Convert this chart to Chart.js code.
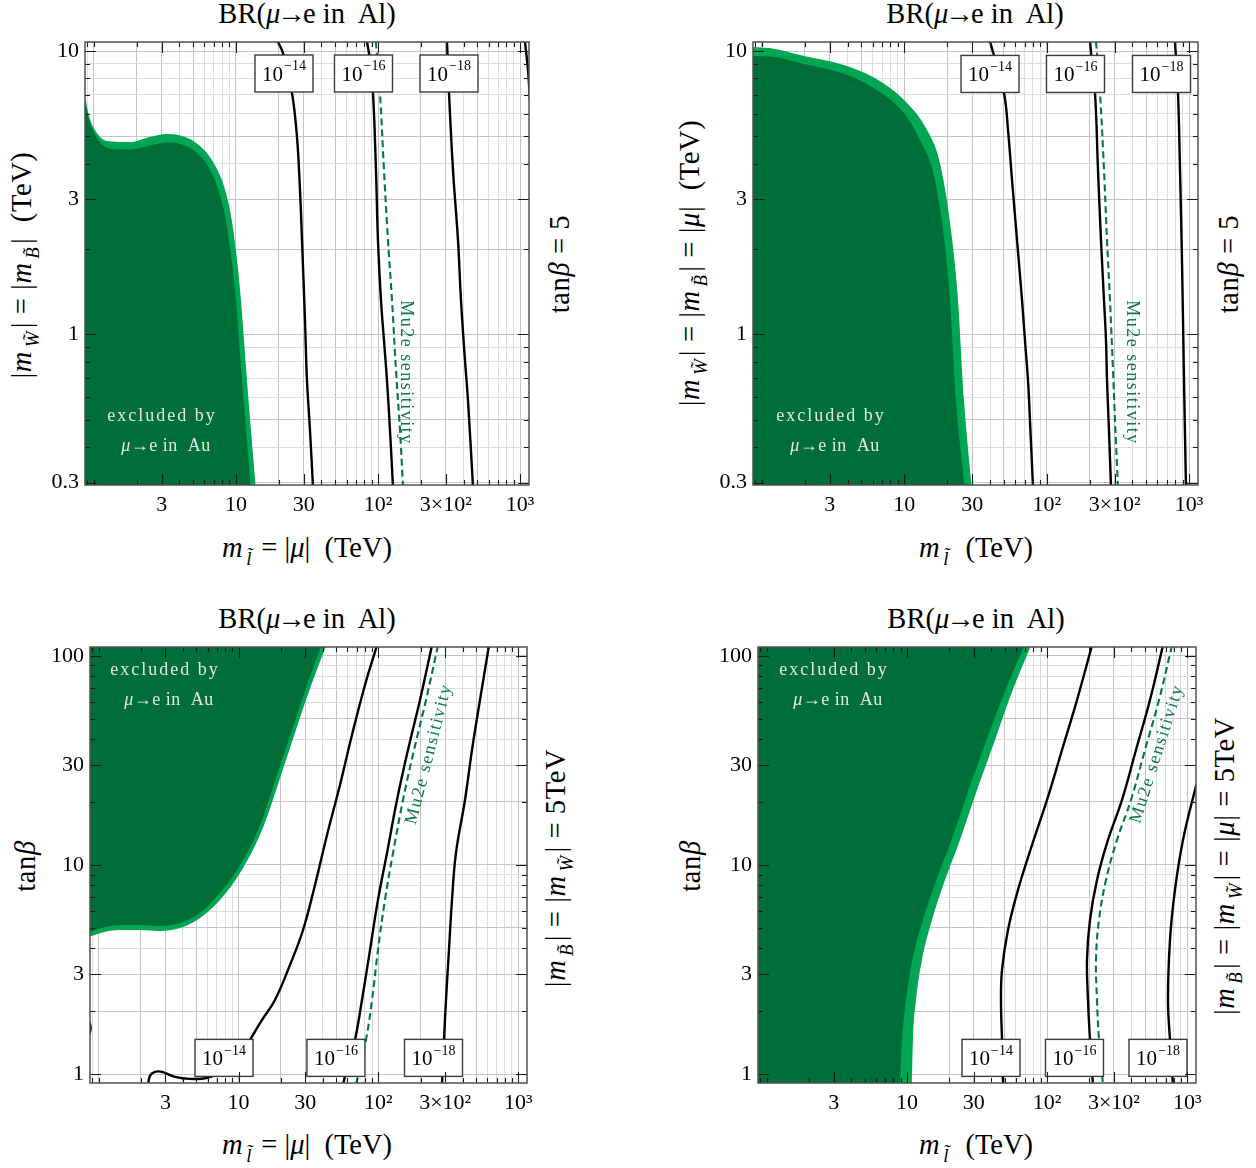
<!DOCTYPE html>
<html><head><meta charset="utf-8">
<script src="https://cdn.jsdelivr.net/npm/chart.js@4.4.1/dist/chart.umd.min.js"></script>
<style>
html,body{margin:0;padding:0;background:#fff;}
body{width:1256px;height:1168px;position:relative;overflow:hidden;font-family:"Liberation Serif","Times New Roman",serif;color:#000;}
canvas{position:absolute;}
.lab{position:absolute;white-space:nowrap;font-size:28.5px;line-height:1;transform:translate(-50%,-50%);}
.rot{transform:translate(-50%,-50%) rotate(-90deg);letter-spacing:0.6px;}
.lab sub{font-size:66%;vertical-align:-0.4em;line-height:0;margin:0 0.14em 0 0.2em;}
.ar{margin:0 -0.1em;}
</style></head><body>
<div class="lab" style="left:307px;top:14px">BR(<i>μ</i><span class="ar">→</span>e in&nbsp; Al)</div>
<div class="lab" style="left:975px;top:14px">BR(<i>μ</i><span class="ar">→</span>e in&nbsp; Al)</div>
<div class="lab" style="left:307px;top:619px">BR(<i>μ</i><span class="ar">→</span>e in&nbsp; Al)</div>
<div class="lab" style="left:976px;top:619px">BR(<i>μ</i><span class="ar">→</span>e in&nbsp; Al)</div>

<div class="lab" style="left:307px;top:548px"><i>m</i><sub><i>l&#771;</i></sub> = |<i>μ</i>|&nbsp; (TeV)</div>
<div class="lab" style="left:976px;top:548px"><i>m</i><sub><i>l&#771;</i></sub>&nbsp; (TeV)</div>
<div class="lab" style="left:307px;top:1145px"><i>m</i><sub><i>l&#771;</i></sub> = |<i>μ</i>|&nbsp; (TeV)</div>
<div class="lab" style="left:976px;top:1145px"><i>m</i><sub><i>l&#771;</i></sub>&nbsp; (TeV)</div>

<div class="lab rot" style="left:22px;top:265px">|<i>m</i><sub><i>W&#771;</i></sub>| = |<i>m</i><sub><i>B&#771;</i></sub>|&nbsp; (TeV)</div>
<div class="lab rot" style="left:690px;top:263px">|<i>m</i><sub><i>W&#771;</i></sub>| = |<i>m</i><sub><i>B&#771;</i></sub>| = |<i>μ</i>|&nbsp; (TeV)</div>
<div class="lab rot" style="left:26px;top:866px">tan<i>β</i></div>
<div class="lab rot" style="left:691px;top:866px">tan<i>β</i></div>

<div class="lab rot" style="left:560px;top:264px">tan<i>β</i> = 5</div>
<div class="lab rot" style="left:1229px;top:264px">tan<i>β</i> = 5</div>
<div class="lab rot" style="left:556px;top:868px">|<i>m</i><sub><i>B&#771;</i></sub>| = |<i>m</i><sub><i>W&#771;</i></sub>| = 5TeV</div>
<div class="lab rot" style="left:1225px;top:866px">|<i>m</i><sub><i>B&#771;</i></sub>| = |<i>m</i><sub><i>W&#771;</i></sub>| = |<i>μ</i>| = 5TeV</div>

<script>
// ---------------- tick labels ----------------
const xMajorVals = [3, 10, 30, 100, 300, 1000];
const xMajorText = ['3', '10', '30', '10²', '3×10²', '10³'];
const yTopMajorVals = [0.3, 1, 3, 10];
const yTopMajorText = ['0.3', '1', '3', '10'];
const yBotMajorVals = [1, 3, 10, 30, 100];
const yBotMajorText = ['1', '3', '10', '30', '100'];

// ---------------- panel 1 (tanβ = 5) ----------------
const p1ExclOuter = [[0.85,7.46],[0.909,6.09],[1.018,5.26],[1.237,4.81],[1.796,4.77],[2.483,4.97],[3.27,5.09],[4.38,4.97],[5.58,4.62],[6.78,4.12],[7.97,3.50],[9.08,2.74],[10.0,1.98],[10.85,1.32],[11.39,0.953],[11.96,0.688],[12.76,0.458],[13.84,0.28]];
const p1ExclInner = [[0.85,7.0],[0.924,5.71],[1.052,4.93],[1.299,4.52],[1.796,4.49],[2.483,4.64],[3.27,4.75],[4.38,4.64],[5.40,4.34],[6.36,3.92],[7.36,3.34],[8.37,2.63],[9.23,1.90],[10.0,1.32],[11.03,0.688],[12.76,0.28]];
const p1C14 = [[19.7,10.8],[21.43,9.84],[24.80,7.11],[26.89,4.97],[28.23,3.23],[29.16,2.15],[30.61,1.121],[31.62,0.688],[33.2,0.458],[34.85,0.29]];
const p1C16 = [[83.5,10.8],[87.8,9.30],[92.2,7.11],[96.7,3.80],[99.9,2.15],[104.9,1.32],[110.1,0.953],[115.6,0.688],[121.4,0.458],[127.4,0.29]];
const p1Mu2e = [[96.5,10.8],[103.2,7.11],[110.1,3.80],[117.5,2.15],[125.4,1.32],[133.8,0.746],[142.8,0.458],[149.9,0.29]];
const p1C18 = [[305.8,10.8],[315.9,7.11],[337.0,3.80],[365.4,2.15],[383.6,1.32],[409.3,0.81],[429.7,0.585],[466.0,0.29]];
const p1C20 = [[1082,10.8],[1136,8.57],[1174,6.71]];

// ---------------- panel 2 (tanβ = 5, |μ| = gaugino) ----------------
const p2ExclOuter = [[0.85,10.33],[1.236,10.17],[1.852,9.68],[4.157,8.78],[7.09,7.71],[10.45,6.55],[14.43,5.26],[17.81,4.02],[21.28,2.33],[23.84,1.32],[26.26,0.585],[29.88,0.28]];
const p2ExclInner = [[0.85,9.61],[1.236,9.53],[1.852,9.07],[4.157,8.17],[6.75,7.17],[9.79,6.09],[12.89,4.85],[15.9,3.74],[18.7,2.33],[20.94,1.32],[23.07,0.585],[26.69,0.28]];
const p2C14 = [[40.0,10.8],[50.1,7.11],[53.5,5.26],[57.1,3.50],[61.9,2.15],[67.1,1.32],[70.4,0.953],[73.9,0.688],[76.3,0.497],[80.1,0.29]];
const p2C16 = [[201.4,10.8],[218.4,7.11],[229.3,3.80],[240.6,2.15],[252.6,1.32],[260.9,0.953],[265.2,0.688],[273.8,0.458],[282.8,0.29]];
const p2Mu2e = [[221.9,10.8],[236.8,7.11],[252.6,3.80],[265.2,2.15],[278.3,1.32],[292.2,0.746],[301.8,0.497],[316.7,0.29]];
const p2C18 = [[796.2,10.8],[835.9,7.11],[863.3,3.80],[891.5,1.827],[920.9,0.688],[951.0,0.29]];

// ---------------- panel 3 (gauginos = 5 TeV, m_l = |μ|) ----------------
const p3ExclOuter = [[0.85,4.53],[1.109,4.79],[1.419,4.89],[1.973,4.89],[2.743,4.84],[3.812,5.0],[5.30,5.58],[7.36,6.81],[10.24,9.16],[14.71,14.71],[21.48,30.73],[30.85,63.5],[42.9,115]];
const p3ExclInner = [[0.85,4.79],[1.109,5.06],[1.419,5.17],[1.973,5.17],[2.743,5.11],[3.812,5.28],[5.30,5.90],[7.13,7.19],[9.74,9.47],[13.77,14.71],[20.1,30.73],[28.9,63.5],[39.5,115]];
const p3C14 = [[2.25,0.88],[2.325,0.982],[2.525,1.026],[2.835,1.026],[3.51,0.971],[4.49,0.950],[5.95,0.960],[8.0,1.049],[10.24,1.237],[12.07,1.459],[14.71,1.818],[18.21,2.265],[23.32,3.33],[28.9,4.89],[35.2,8.03],[42.9,13.92],[53.1,24.12],[64.7,41.8],[80.2,72.5],[97.7,112]];
const p3C12 = [[0.84,1.85],[0.875,1.66],[0.84,1.5]];
const p3C16 = [[241.6,112],[198.3,61.4],[162.7,35.45],[135.8,20.45],[115.2,11.42],[99.3,6.81],[87.1,3.93],[76.3,2.265],[68.0,1.459],[61.6,1.171],[55.8,0.89]];
const p3Mu2e = [[266.8,112],[218.9,61.4],[179.7,35.45],[149.9,20.45],[127.2,11.42],[111.4,6.81],[99.3,3.93],[90.0,2.265],[81.5,1.459],[69.1,0.89]];
const p3C18 = [[617.8,112],[532.5,61.4],[466.9,35.45],[416.0,20.45],[358.7,11.42],[335.9,6.81],[319.6,3.93],[304.3,2.265],[294.4,1.459],[284.9,0.89]];

// ---------------- panel 4 (all = 5 TeV) ----------------
const p4ExclOuter = [[0.85,0.85],[10.8,0.85],[11.05,1.459],[11.61,2.265],[12.81,3.52],[15.10,5.46],[18.70,8.48],[23.91,13.17],[31.62,22.83],[42.5,39.6],[56.2,67.1],[78.1,115]];
const p4ExclInner = [[0.85,0.85],[8.8,0.85],[9.22,1.459],[9.85,2.265],[10.95,3.52],[13.0,5.46],[16.2,8.48],[20.8,13.17],[27.5,22.83],[37.0,39.6],[49.8,67.1],[70.0,115]];
const p4C14 = [[209.2,112],[163.5,61.4],[127.8,35.45],[99.9,20.45],[78.1,12.46],[62.0,7.60],[52.6,4.89],[47.7,3.15],[46.9,2.265],[47.7,1.459],[48.5,0.89]];
const p4C16 = [[671.5,112],[542.3,61.4],[430.9,35.45],[342.4,20.45],[272.0,13.17],[227.1,8.48],[202.4,5.46],[192.7,3.52],[195.9,2.265],[202.4,1.459],[212.6,0.89]];
const p4Mu2e = [[778.7,112],[628.8,61.4],[499.4,35.45],[396.9,20.45],[315.4,13.17],[263.3,8.48],[234.6,5.46],[223.4,3.52],[227.1,2.265],[234.6,1.459],[250.6,0.89]];
const p4C18 = [[1193,25.48],[1136,22.83],[933,13.17],[817.6,7.60],[753.4,4.38],[729.0,2.265],[753.4,1.459],[791.4,0.89]];

// ---------------- styling / layout ----------------
const FONT = '"Liberation Serif", "Times New Roman", serif';
const DARK = '#006e38', LIGHT = '#00a651', MU2E = '#0b7a45';
const X_RANGE = [0.866, 1155];
const TOP_Y = [0.294, 10.76];
const BOT_Y = [0.908, 110.1];

function mkTicks(lo, hi) {
  const out = [];
  for (let e = -1; e <= 3; e++) for (let m = 1; m <= 9; m++) {
    const v = +(m * Math.pow(10, e)).toPrecision(6);
    if (v >= lo - 1e-9 && v <= hi + 1e-9) out.push(v);
  }
  return out;
}
const xTicks = mkTicks(0.9, 1000);
const yTopTicks = mkTicks(0.3, 10);
const yBotTicks = mkTicks(1, 100);

const panels = [
  { rect: [85, 42, 529, 485], yr: TOP_Y, yTicks: yTopTicks, yMaj: [yTopMajorVals, yTopMajorText],
    fills: [[p1ExclOuter, LIGHT, 'start'], [p1ExclInner, DARK, 'start']],
    lines: [p1C14, p1C16, p1C18, p1C20], dashed: [p1Mu2e],
    boxes: [[21.78, 8.33, '−14'], [79.0, 8.33, '−16'], [315.9, 8.33, '−18']],
    excl: [3.02, 0.513, 3.22, 0.402], mu: [157.3, 0.734, 90] },
  { rect: [753, 42, 1198, 485], yr: TOP_Y, yTicks: yTopTicks, yMaj: [yTopMajorVals, yTopMajorText],
    fills: [[p2ExclOuter, LIGHT, 'start'], [p2ExclInner, DARK, 'start']],
    lines: [p2C14, p2C16, p2C18], dashed: [p2Mu2e],
    boxes: [[40.0, 8.30, '−14'], [159.3, 8.30, '−16'], [640.2, 8.30, '−18']],
    excl: [3.06, 0.513, 3.26, 0.402], mu: [397.2, 0.734, 90] },
  { rect: [90, 647, 527, 1083], yr: BOT_Y, yTicks: yBotTicks, yMaj: [yBotMajorVals, yBotMajorText],
    fills: [[p3ExclOuter, LIGHT, 'end'], [p3ExclInner, DARK, 'end']],
    lines: [p3C14, p3C12, p3C16, p3C18], dashed: [p3Mu2e],
    boxes: [[7.87, 1.197, '−14'], [49.7, 1.197, '−16'], [247.7, 1.197, '−18']],
    excl: [2.98, 85.5, 3.18, 61.4], mu: [230, 33.9, -75.6] },
  { rect: [758, 647, 1196, 1083], yr: BOT_Y, yTicks: yBotTicks, yMaj: [yBotMajorVals, yBotMajorText],
    fills: [[p4ExclOuter, LIGHT, 'end'], [p4ExclInner, DARK, 'end']],
    lines: [p4C14, p4C16, p4C18], dashed: [p4Mu2e],
    boxes: [[39.8, 1.197, '−14'], [156.9, 1.197, '−16'], [618.6, 1.197, '−18']],
    excl: [3.02, 85.5, 3.22, 61.4], mu: [608.5, 33.9, -72.4] }
];

const PAD_L = 75, PAD_T = 34, PAD_R = 20, PAD_B = 45;
const xLabMap = new Map(xMajorVals.map((v, i) => [v, xMajorText[i]]));
const xMajSet = new Set(xMajorVals);
const xGridDark = new Set([1, 2, 3, 5, 10, 20, 30, 50, 100, 200, 300, 500, 1000]);

function gridColorFor(set) {
  return c => (c.tick && set.has(c.tick.value)) ? '#c4c4c4' : '#dddddd';
}

function drawPow(ctx, cx, cy, exp) {
  ctx.fillStyle = '#000'; ctx.textBaseline = 'alphabetic'; ctx.textAlign = 'left';
  ctx.letterSpacing = '0px';
  ctx.font = '21px ' + FONT; const w1 = ctx.measureText('10').width;
  ctx.font = '14px ' + FONT; const w2 = ctx.measureText(exp).width;
  const x0 = cx - (w1 + w2 + 1) / 2;
  ctx.font = '21px ' + FONT; ctx.fillText('10', x0, cy + 7.5);
  ctx.font = '14px ' + FONT; ctx.fillText(exp, x0 + w1 + 1, cy - 3);
}

function decorPlugin(P, yMajSet) {
  return {
    id: 'decor',
    afterDatasetsDraw(chart) {
      const { ctx, chartArea: a } = chart;
      const X = chart.scales.x, Y = chart.scales.y;
      ctx.save();
      ctx.beginPath(); ctx.rect(a.left, a.top, a.right - a.left, a.bottom - a.top); ctx.clip();
      // excluded text
      const [ex1, ey1, ex2, ey2] = P.excl;
      ctx.fillStyle = '#e6e6e6';
      ctx.textBaseline = 'middle';
      ctx.font = '18px ' + FONT; ctx.letterSpacing = '2px'; ctx.textAlign = 'center';
      ctx.fillText('excluded by', X.getPixelForValue(ex1), Y.getPixelForValue(ey1));
      const px2 = X.getPixelForValue(ex2), py2 = Y.getPixelForValue(ey2);
      ctx.letterSpacing = '0.5px'; ctx.textAlign = 'left';
      ctx.font = 'italic 18px ' + FONT; const wm = ctx.measureText('μ').width;
      ctx.font = '18px ' + FONT; const wr = ctx.measureText('→e in  Au').width;
      const x0 = px2 - (wm + wr) / 2;
      ctx.font = 'italic 18px ' + FONT; ctx.fillText('μ', x0, py2);
      ctx.font = '18px ' + FONT; ctx.fillText('→e in  Au', x0 + wm, py2);
      // Mu2e label
      const [mx, my, rot] = P.mu;
      ctx.save();
      ctx.translate(X.getPixelForValue(mx), Y.getPixelForValue(my));
      ctx.rotate(rot * Math.PI / 180);
      ctx.font = '18px ' + FONT; ctx.letterSpacing = '1.5px';
      ctx.fillStyle = MU2E; ctx.textAlign = 'center'; ctx.textBaseline = 'middle';
      ctx.fillText('Mu2e sensitivity', 0, 0);
      ctx.restore();
      // contour label boxes
      P.boxes.forEach(([bx, by, s]) => {
        const cx = X.getPixelForValue(bx), cy = Y.getPixelForValue(by);
        const w = 58, h = 37;
        ctx.fillStyle = '#fff'; ctx.fillRect(cx - w / 2, cy - h / 2, w, h);
        ctx.strokeStyle = '#3a3a3a'; ctx.lineWidth = 1.4;
        ctx.strokeRect(cx - w / 2, cy - h / 2, w, h);
        drawPow(ctx, cx, cy, s);
      });
      ctx.restore();
      // ticks (inward, all four sides)
      ctx.save();
      ctx.strokeStyle = '#1a1a1a'; ctx.lineWidth = 1.1;
      ctx.beginPath();
      xTicks.forEach(v => {
        const px = Math.round(X.getPixelForValue(v)) + 0.5;
        const L = xMajSet.has(v) ? 11 : 5;
        ctx.moveTo(px, a.bottom); ctx.lineTo(px, a.bottom - L);
        ctx.moveTo(px, a.top); ctx.lineTo(px, a.top + L);
      });
      P.yTicks.forEach(v => {
        const py = Math.round(Y.getPixelForValue(v)) + 0.5;
        const L = yMajSet.has(v) ? 11 : 5;
        ctx.moveTo(a.left, py); ctx.lineTo(a.left + L, py);
        ctx.moveTo(a.right, py); ctx.lineTo(a.right - L, py);
      });
      ctx.stroke();
      ctx.strokeStyle = '#505050'; ctx.lineWidth = 1.5;
      ctx.strokeRect(a.left, a.top, a.right - a.left, a.bottom - a.top);
      ctx.restore();
    }
  };
}

const pts = arr => arr.map(([x, y]) => ({ x, y }));

panels.forEach(P => {
  const [l, t, r, b] = P.rect;
  const cv = document.createElement('canvas');
  const W = (r - l) + PAD_L + PAD_R, H = (b - t) + PAD_T + PAD_B;
  cv.width = W; cv.height = H;
  cv.style.left = (l - PAD_L) + 'px'; cv.style.top = (t - PAD_T) + 'px';
  cv.style.width = W + 'px'; cv.style.height = H + 'px';
  document.body.appendChild(cv);

  const yLabMap = new Map(P.yMaj[0].map((v, i) => [v, P.yMaj[1][i]]));
  const yMajSet = new Set(P.yMaj[0]);
  const yGridDark = new Set([0.3, 0.5, 1, 2, 3, 5, 10, 20, 30, 50, 100]);

  const datasets = [];
  P.lines.forEach(d => datasets.push({ data: pts(d), showLine: true, fill: false, borderColor: '#000',
    borderWidth: 2.4, pointRadius: 0, tension: 0.4, clip: 0, order: 2 }));
  P.dashed.forEach(d => datasets.push({ data: pts(d), showLine: true, fill: false, borderColor: '#007a3d',
    borderWidth: 2.1, borderDash: [7, 4], pointRadius: 0, tension: 0.4, clip: 0, order: 1 }));
  P.fills.forEach(([d, c, f], i) => datasets.push({ data: pts(d), showLine: true, fill: f, backgroundColor: c,
    borderColor: c, borderWidth: 0, pointRadius: 0, cubicInterpolationMode: 'monotone', clip: 0, order: 10 - i }));

  new Chart(cv, {
    type: 'scatter',
    data: { datasets },
    plugins: [decorPlugin(P, yMajSet)],
    options: {
      responsive: false, animation: false, devicePixelRatio: window.devicePixelRatio || 1,
      layout: { padding: { left: 0, top: PAD_T, right: PAD_R, bottom: 0 } },
      plugins: { legend: { display: false }, tooltip: { enabled: false } },
      events: [],
      scales: {
        x: {
          type: 'logarithmic', position: 'bottom', min: X_RANGE[0], max: X_RANGE[1],
          afterBuildTicks: s => { s.ticks = xTicks.map(v => ({ value: v })); },
          afterFit: s => { s.height = PAD_B; },
          ticks: { autoSkip: false, maxRotation: 0, minRotation: 0, padding: 7, color: '#000',
            font: { family: FONT, size: 22 }, callback: v => xLabMap.get(v) ?? '' },
          grid: { color: gridColorFor(xGridDark), lineWidth: 1, drawTicks: false },
          border: { display: false }
        },
        y: {
          type: 'logarithmic', position: 'left', min: P.yr[0], max: P.yr[1],
          afterBuildTicks: s => { s.ticks = P.yTicks.map(v => ({ value: v })); },
          afterFit: s => { s.width = PAD_L; },
          ticks: { autoSkip: false, padding: 6, color: '#000',
            font: { family: FONT, size: 22 }, callback: v => yLabMap.get(v) ?? '' },
          grid: { color: gridColorFor(yGridDark), lineWidth: 1, drawTicks: false },
          border: { display: false }
        }
      }
    }
  });
});
</script>
</body></html>
